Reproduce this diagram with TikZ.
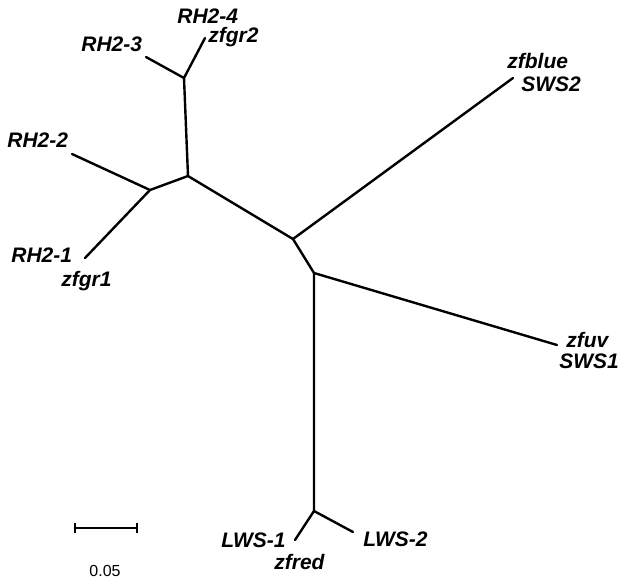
\documentclass[tikz,border=0pt]{standalone}
\usepackage{fontspec}
\newfontfamily\arialfont{Liberation Sans}
\usepackage{tikz}

\begin{document}
\begin{tikzpicture}[x=0.5pt, y=-0.5pt,
    branch/.style={line width=1.2pt, line cap=round, line join=round},
    taxon/.style={font=\arialfont\bfseries\itshape\fontsize{10.5}{12}\selectfont,
                  inner sep=0pt, anchor=base west},
    scalelbl/.style={font=\arialfont\fontsize{8}{9}\selectfont, inner sep=0pt, anchor=base}]

    \useasboundingbox (0,0) rectangle (618,580);

    % ── Internal branch points ───────────────────────────────────────────────
    \coordinate (ja) at (184,78);   % RH2-3 / RH2-4
    \coordinate (jb) at (188,176);  % green clade
    \coordinate (jc) at (150,190);  % RH2-1 / RH2-2
    \coordinate (jd) at (293,239);  % blue split
    \coordinate (je) at (314,273);  % uv split
    \coordinate (jf) at (314,511);  % red clade

    % ── Tips ──────────────────────────────────────────────────────────────────
    \coordinate (trh24) at (205,38);
    \coordinate (trh23) at (146,57);
    \coordinate (trh22) at (72,154);
    \coordinate (trh21) at (85,258);
    \coordinate (tblue) at (513,78);
    \coordinate (tuv)   at (557,345);
    \coordinate (tlws1) at (295,540);
    \coordinate (tlws2) at (353,532);

    % ── Branches ──────────────────────────────────────────────────────────────
    \draw[branch] (trh23) -- (ja) -- (trh24);
    \draw[branch] (ja) -- (jb) -- (jd);
    \draw[branch] (jb) -- (jc) -- (trh22);
    \draw[branch] (jc) -- (trh21);
    \draw[branch] (jd) -- (tblue);
    \draw[branch] (jd) -- (je) -- (tuv);
    \draw[branch] (je) -- (jf) -- (tlws1);
    \draw[branch] (jf) -- (tlws2);

    % ── Labels ────────────────────────────────────────────────────────────────
    \node[taxon] (rh24)  at (177,23)  {RH2-4};
    \node[taxon] (zfgr2) at (208,42)  {zfgr2};
    \node[taxon] (rh23)  at (81,51)   {RH2-3};
    \node[taxon] (rh22)  at (7,147)   {RH2-2};
    \node[taxon] (rh21)  at (11,262)  {RH2-1};
    \node[taxon] (zfgr1) at (61,286)  {zfgr1};
    \node[taxon] (zfblue) at (507,68) {zfblue};
    \node[taxon] (sws2)  at (521,91)  {SWS2};
    \node[taxon] (zfuv)  at (566,347) {zfuv};
    \node[taxon] (sws1)  at (559,368) {SWS1};
    \node[taxon] (lws1)  at (221,547) {LWS-1};
    \node[taxon] (lws2)  at (363,546) {LWS-2};
    \node[taxon] (zfred) at (274,569) {zfred};

    % ── Scale bar ─────────────────────────────────────────────────────────────
    \coordinate (sbl) at (75,528);
    \coordinate (sbr) at (137,528);
    \draw[line width=1.2pt] (sbl) -- (sbr);
    \draw[line width=1pt] ([yshift=2.5]sbl) -- ([yshift=-2.5]sbl);
    \draw[line width=1pt] ([yshift=2.5]sbr) -- ([yshift=-2.5]sbr);
    \node[scalelbl] (sblabel) at (105,576) {0.05};

\end{tikzpicture}
\end{document}
